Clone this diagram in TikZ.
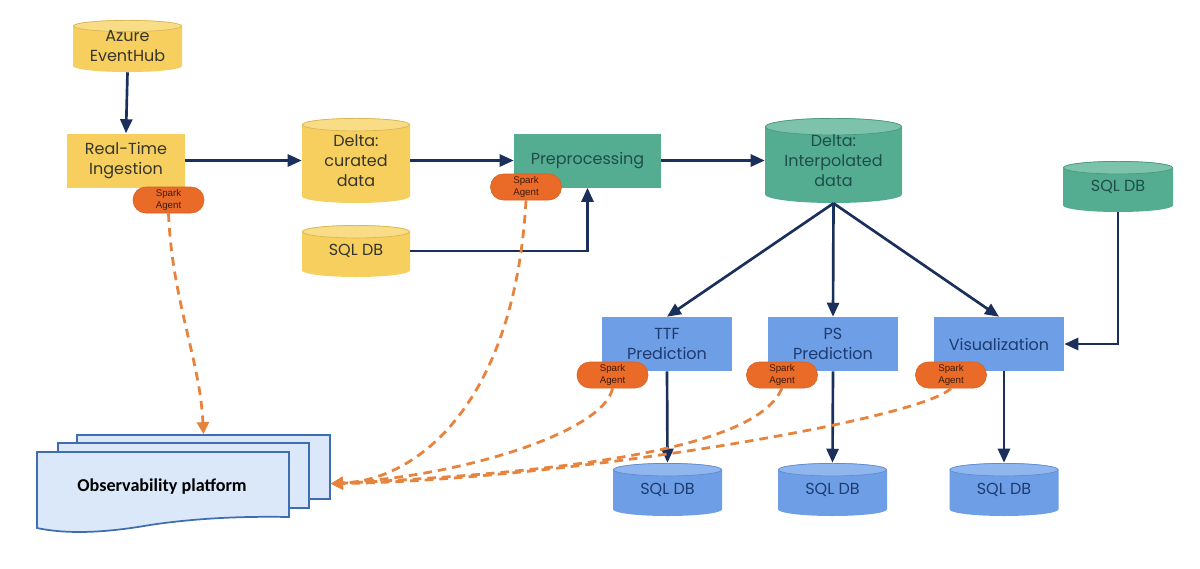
\documentclass[tikz,border=0pt]{standalone}
\usepackage{fontspec}
\setmainfont{Poppins}
\newfontfamily\arialf{Liberation Sans}
\newfontfamily\calib{Carlito}
\usetikzlibrary{arrows.meta,calc}
\definecolor{yfill}{HTML}{F6CF5E}
\definecolor{ytop}{HTML}{F9DC86}
\definecolor{ytext}{HTML}{36352C}
\definecolor{gfill}{HTML}{54AD91}
\definecolor{gtop}{HTML}{7DC3AB}
\definecolor{gtext}{HTML}{1E4D4A}
\definecolor{bfill}{HTML}{6E9FE6}
\definecolor{btop}{HTML}{8FB6EE}
\definecolor{btext}{HTML}{1D3B70}
\definecolor{navy}{HTML}{1A2F5C}
\definecolor{dorange}{HTML}{E7833D}
\definecolor{pill}{HTML}{EA6B28}
\definecolor{pilltext}{HTML}{3D1A0D}
\definecolor{obsfill}{HTML}{DBE8F9}
\definecolor{obsline}{HTML}{3F6DB2}
\begin{document}
\begin{tikzpicture}[x=0.75pt,y=-0.75pt,
  sz/.style 2 args={minimum width=#1*0.75pt, minimum height=#2*0.75pt},
  box/.style={rectangle, inner sep=0pt, align=center, font=\fontsize{12}{15}\selectfont},
  ybox/.style={box, fill=yfill, text=ytext},
  gbox/.style={box, fill=gfill, text=gtext},
  bbox/.style={box, fill=bfill, text=btext},
  cyl/.style n args={3}{box, path picture={
    \fill[#1] let \p1=(path picture bounding box.north west), \p2=(path picture bounding box.south east) in
      (\x1,\y1-#3) -- (\x1,\y2+#3) arc[start angle=180, end angle=360, x radius={(\x2-\x1)/2}, y radius=#3]
      -- (\x2,\y1-#3) arc[start angle=0, end angle=180, x radius={(\x2-\x1)/2}, y radius=#3] -- cycle;
    \filldraw[fill=#2, draw=#1!88!black, line width=0.5pt] let \p1=(path picture bounding box.north west), \p2=(path picture bounding box.south east) in
      ({(\x1+\x2)/2},\y1-#3) ellipse[x radius={(\x2-\x1)/2-0.3pt}, y radius=#3-0.3pt];
  }},
  ycyl/.style={cyl={yfill}{ytop}{#1}, text=ytext},
  gcyl/.style={cyl={gfill}{gtop}{#1}, text=gtext},
  bcyl/.style={cyl={bfill}{btop}{#1}, text=btext},
  agent/.style={rectangle, rounded corners=9.5pt, fill=pill, draw=pill!90!black, line width=0.4pt,
    sz={71}{26}, inner sep=0pt, align=center, text=pilltext, font=\arialf\fontsize{7.3}{9}\selectfont},
  flow/.style={draw=navy, line width=2pt, -{Triangle[length=10.5pt,width=9pt]}},
  obsarrow/.style={draw=dorange, line width=2.1pt, dash pattern=on 6.5pt off 4.5pt, -{Triangle[length=9pt,width=9pt]}},
  sheet/.style={draw=obsline, fill=obsfill, line width=1.3pt}
]
\useasboundingbox (0,0) rectangle (1200,568);

% top row
\node[ycyl=4.5pt, sz={109}{52}] (azure) at (127.5,46) {Azure\\EventHub};
\node[ybox, sz={118}{54}] (rti) at (126,160.5) {Real-Time\\Ingestion};
\node[agent] (sa1) at (168.5,200) {Spark\\Agent};
\node[ycyl=5pt, sz={108}{85}] (delta1) at (356,160.5) {Delta:\\curated\\data};
\node[ycyl=5pt, sz={108}{52}] (sql1) at (356,251) {SQL DB};
\node[gbox, sz={147}{54}] (prep) at (587.5,160.5) {Preprocessing};
\node[agent] (sa2) at (526,187) {Spark\\Agent};
\node[gcyl=6.5pt, sz={137}{85}] (delta2) at (833.5,160.5) {Delta:\\Interpolated\\data};
\node[gcyl=5pt, sz={110}{51}] (sql2) at (1118,186.5) {SQL DB};

% middle row
\node[bbox, sz={130}{54}] (ttf) at (667,344) {TTF\\Prediction};
\node[bbox, sz={130}{54}] (ps) at (833,344) {PS\\Prediction};
\node[bbox, sz={130}{54}] (vis) at (999,344) {Visualization};
\node[agent] (sa3) at (612.5,375) {Spark\\Agent};
\node[agent] (sa4) at (782,375) {Spark\\Agent};
\node[agent] (sa5) at (951,375) {Spark\\Agent};

% bottom row
\node[bcyl=5pt, sz={109}{53}] (sqlA) at (667.5,489.5) {SQL DB};
\node[bcyl=5pt, sz={109}{53}] (sqlB) at (832.5,489.5) {SQL DB};
\node[bcyl=5pt, sz={109}{53}] (sqlC) at (1004,489.5) {SQL DB};

% observability platform
\node[sheet, sz={253}{64}, inner sep=0pt] (obsback) at (203.5,467) {};
\draw[sheet] (58,443) rectangle (309,508);
\draw[sheet] (37,452) -- (289,452) -- (289,517)
  .. controls (235,516) and (190,519) .. (150,525)
  .. controls (110,532) and (70,535) .. (37,528) -- cycle;
\node[font=\calib\bfseries\fontsize{13.6}{15}\selectfont, text=black] (obs) at (162,487) {Observability platform};

% solid connectors
\draw[flow] (azure.south) -- (rti.north);
\draw[flow] (rti.east) -- (delta1.west);
\draw[flow] (delta1.east) -- (prep.west);
\draw[flow] (sql1.east) -| (prep.south);
\draw[flow] (prep.east) -- (delta2.west);
\draw[flow] (delta2.south) -- (ttf.north);
\draw[flow] (delta2.south) -- (ps.north);
\draw[flow] (delta2.south) -- (vis.north);
\draw[flow] (sql2.south) |- (vis.east);
\draw[flow] (ttf.south) -- (sqlA.north);
\draw[flow] (ps.south) -- (sqlB.north);
\draw[flow] (vis.south -| sqlC.north) -- (sqlC.north);

% dashed agent connectors
\coordinate (obsin) at ([yshift=-12.5pt]obsback.east);
\draw[obsarrow] (sa1.south) .. controls (172,300) and (200,360) .. (obsback.north);
\draw[obsarrow] (sa2.south) .. controls (515,400) and (420,480) .. (obsin);
\draw[obsarrow] (sa3.south) .. controls (605,430) and (470,475) .. (obsin);
\draw[obsarrow] (sa4.south) .. controls (760,440) and (620,470) .. (obsin);
\draw[obsarrow] (sa5.south) .. controls (920,420) and (560,480) .. (obsin);
\end{tikzpicture}
\end{document}
